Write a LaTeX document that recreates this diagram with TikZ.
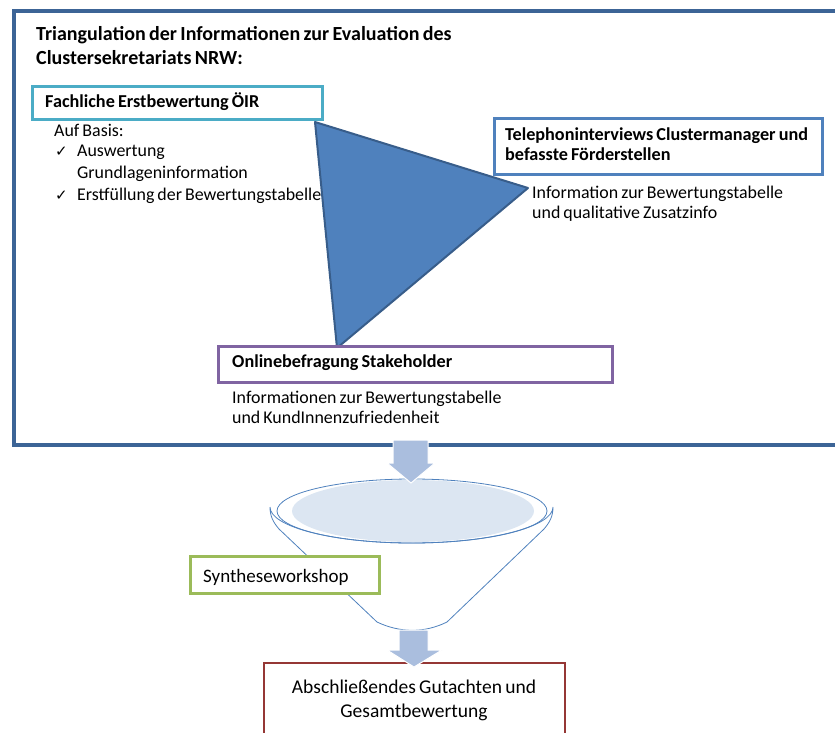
\documentclass[tikz,border=0pt]{standalone}
\usepackage{fontspec}
\setmainfont{Carlito}[WordSpace=0.75]
\newfontfamily\checkfont{DejaVu Sans}

\definecolor{frameblue}{RGB}{60,100,150}
\definecolor{tealbox}{RGB}{75,172,198}
\definecolor{bluebox}{RGB}{79,129,189}
\definecolor{purplebox}{RGB}{128,100,162}
\definecolor{greenbox}{RGB}{155,187,89}
\definecolor{redbox}{RGB}{149,55,53}
\definecolor{triedge}{RGB}{56,93,138}
\definecolor{arrowfill}{RGB}{170,190,222}
\definecolor{funnelfill}{RGB}{220,230,242}

\tikzset{
  txt/.style={anchor=base west, inner sep=0pt, font=\fontsize{17.9}{21}\selectfont},
  boldtxt/.style={txt, font=\fontsize{18.2}{21}\selectfont\bfseries},
  titletxt/.style={txt, font=\fontsize{20}{24}\selectfont\bfseries},
  chk/.style={txt, font=\fontsize{15}{16}\selectfont\checkfont},
  infobox/.style={draw=#1, line width=3pt, fill=white, anchor=north west, inner sep=0pt},
  blockarrow/.style={fill=arrowfill, draw=white, line width=1pt}
}

\begin{document}
\begin{tikzpicture}[x=1pt,y=-1pt]
  \useasboundingbox (0,0) rectangle (835,733);

  % outer frame (right side runs off the page)
  \draw[frameblue, line width=4pt] (14,11) rectangle (850,445);

  \node[titletxt] (title1) at (36,40.7) {Triangulation der Informationen zur Evaluation des};
  \node[titletxt] (title2) at (36,65) {Clustersekretariats NRW:};

  % left source
  \node[infobox=tealbox, minimum width=290pt, minimum height=33pt] (erst) at (31,85) {};
  \node[boldtxt] (ersttxt) at (45,108) {Fachliche Erstbewertung ÖIR};
  \node[txt] (basis) at (54,136) {Auf Basis:};
  \node[chk] (chk1) at (55,157) {✓};
  \node[txt] (aus1) at (77,157) {Auswertung};
  \node[txt] (aus2) at (77,178.5) {Grundlageninformation};
  \node[chk] (chk2) at (55,200) {✓};
  \node[txt] (erstf) at (77,200) {Erstfüllung der Bewertungstabelle};

  % right source
  \node[infobox=bluebox, minimum width=328pt, minimum height=56pt] (tel) at (493,117) {};
  \node[boldtxt] (teltxt1) at (505,140.5) {Telephoninterviews Clustermanager und};
  \node[boldtxt] (teltxt2) at (505,160.5) {befasste Förderstellen};
  \node[txt] (telinfo1) at (532,198) {Information zur Bewertungstabelle};
  \node[txt] (telinfo2) at (532,218) {und qualitative Zusatzinfo};

  % triangle
  \coordinate (tA) at (315,122);
  \coordinate (tB) at (528,188);
  \coordinate (tC) at (337,348);
  \draw[fill=bluebox, draw=triedge, line width=2pt, line join=round] (tA) -- (tB) -- (tC) -- cycle;

  % bottom source
  \node[infobox=purplebox, minimum width=394pt, minimum height=36pt] (online) at (217,345) {};
  \node[boldtxt] (onlinetxt) at (232,367) {Onlinebefragung Stakeholder};
  \node[txt] (oninfo1) at (232,403) {Informationen zur Bewertungstabelle};
  \node[txt] (oninfo2) at (232,423) {und KundInnenzufriedenheit};

  % funnel
  \draw[bluebox, line width=0.8pt] (270,507) arc[start angle=180, end angle=0, x radius=141.5, y radius=36]
     .. controls (553,516) and (550,522) .. (544,529) -- (447,622)
     .. controls (425,633) and (400,633) .. (377,622) -- (279,529)
     .. controls (273,522) and (270,516) .. (270,507);
  \draw[bluebox, line width=0.8pt] (412,511) ellipse[x radius=135, y radius=32];
  \fill[funnelfill] (413,511) ellipse[x radius=121, y radius=31];

  % arrows
  \draw[blockarrow] (393,440) -- (428,440) -- (428,463) -- (435,463) -- (411,483)
     -- (387,463) -- (393,463) -- cycle;

  \node[infobox=greenbox, minimum width=189pt, minimum height=37pt] (synth) at (189,555) {};
  \node[txt, font=\fontsize{19}{21}\selectfont] (synthtxt) at (203,582) {Syntheseworkshop};

  \node[draw=redbox, line width=2pt, fill=white, anchor=north west, minimum width=301pt,
        minimum height=90pt, inner sep=0pt] (final) at (263,662) {};
  \node[txt, anchor=base, font=\fontsize{19.5}{24}\selectfont] (fin1) at (414,693) {Abschließendes Gutachten und};
  \node[txt, anchor=base, font=\fontsize{19.5}{24}\selectfont] (fin2) at (414,717) {Gesamtbewertung};

  \draw[blockarrow] (399,630) -- (428,630) -- (428,650) -- (442,650) -- (414,667)
     -- (387,650) -- (399,650) -- cycle;
\end{tikzpicture}
\end{document}
